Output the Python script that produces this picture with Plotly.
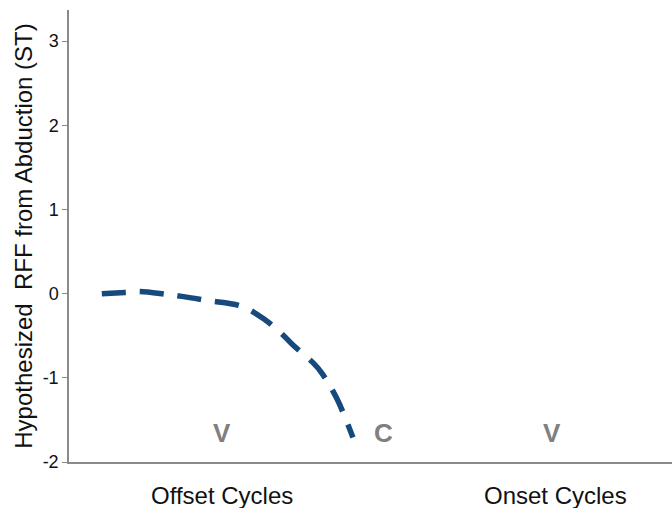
import plotly.graph_objects as go

# Data (x in category units: 1 = Offset Cycles, 2 = Onset Cycles)
curve_x = [0.639, 0.709, 0.754, 0.832, 0.879, 0.958, 1.059, 1.129, 1.183, 1.213, 1.273, 1.299, 1.344, 1.393]
curve_y = [0.00, 0.015, 0.025, -0.008, -0.032, -0.083, -0.151, -0.31, -0.49, -0.61, -0.82, -0.94, -1.24, -1.71]

categories = ["Offset Cycles", "Onset Cycles"]
category_pos = [1, 2]

letters = ["V", "C", "V"]
letter_x = [1.0, 1.486, 1.99]
letter_y = [-1.655, -1.655, -1.655]

y_ticks = [-2, -1, 0, 1, 2, 3]
y_tick_text = ["-2", "-1", "0", "1", "2", "3"]

FONT = "Liberation Sans, Arial"

fig = go.Figure()
fig.add_trace(go.Scatter(
    x=curve_x, y=curve_y, mode="lines",
    line=dict(color="#174A7C", width=5.5, dash="24px,14px", shape="spline"),
    showlegend=False, hoverinfo="skip"))

for t, lx, ly in zip(letters, letter_x, letter_y):
    fig.add_annotation(x=lx, y=ly, text="<b>%s</b>" % t, showarrow=False,
                       font=dict(family=FONT, size=26, color="#808080"),
                       xanchor="center", yanchor="middle")

for c, p in zip(categories, category_pos):
    fig.add_annotation(x=p, y=0, yref="paper", text=c, showarrow=False,
                       yshift=-33, font=dict(family=FONT, size=24, color="#111"),
                       xanchor="center", yanchor="middle")

fig.update_layout(
    width=672, height=508,
    margin=dict(l=69, r=0, t=10, b=46),
    plot_bgcolor="white", paper_bgcolor="white",
    xaxis=dict(range=[0.5405, 2.351], showgrid=False, zeroline=False,
               showline=True, linecolor="#8a8a8a", linewidth=1.5,
               showticklabels=False, ticks=""),
    yaxis=dict(range=[-2, 3.37], showgrid=False, zeroline=False,
               showline=True, linecolor="#8a8a8a", linewidth=1.5,
               tickvals=y_ticks, ticktext=y_tick_text,
               ticks="outside", ticklen=5, tickcolor="#8a8a8a",
               tickfont=dict(family=FONT, size=18, color="#111"),
               title=dict(text="Hypothesized  RFF from Abduction (ST)",
                          font=dict(family=FONT, size=24, color="#111"),
                          standoff=3)),
)

fig.write_html("out.html")
